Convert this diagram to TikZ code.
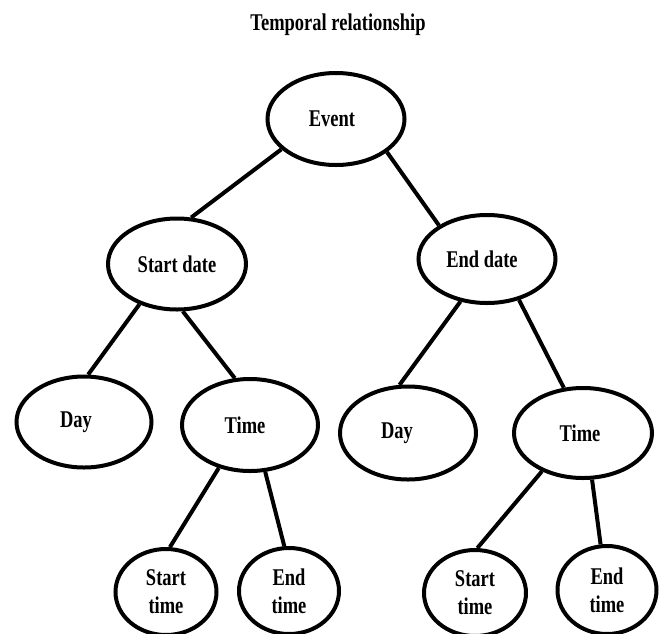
\documentclass[tikz,border=0pt]{standalone}
\usepackage{fontspec}
\setmainfont{Liberation Serif}[FakeStretch=0.77]
\usetikzlibrary{shapes.geometric}
\tikzset{item/.style={ellipse, draw, line width=4pt, inner sep=0pt,
      font=\fontsize{24}{28}\selectfont\bfseries, align=center},
    link/.style={line width=4pt}}

\begin{document}
\begin{tikzpicture}[x=1pt,y=-1pt]
    \useasboundingbox (0,0) rectangle (659,633);
    % Title
    \node[anchor=base, font=\fontsize{24}{28}\selectfont\bfseries] (title) at (338,30) {Temporal relationship};
    % Nodes of the tree
    \node[item, minimum width=137pt, minimum height=92pt] (event) at (336,119) {Event\hspace*{8pt}};
    \node[item, minimum width=138pt, minimum height=91pt] (sdate) at (177,264) {Start date};
    \node[item, minimum width=137pt, minimum height=88pt] (edate) at (487,259) {End date\hspace*{10pt}};
    \node[item, minimum width=135pt, minimum height=91pt] (dayA) at (84,422) {Day\hspace*{16pt}};
    \node[item, minimum width=136pt, minimum height=92pt] (timeA) at (250,425) {Time\hspace*{10pt}};
    \node[item, minimum width=136pt, minimum height=93pt] (dayB) at (408,433) {Day\hspace*{22pt}};
    \node[item, minimum width=138pt, minimum height=90pt] (timeB) at (583,433) {Time\hspace*{6pt}};
    \node[item, minimum width=101pt, minimum height=86pt] (stimeA) at (166,592) {Start\\time};
    \node[item, minimum width=100pt, minimum height=86pt] (etimeA) at (289,591) {End\\time};
    \node[item, minimum width=102pt, minimum height=86pt] (stimeB) at (475,593) {Start\\time};
    \node[item, minimum width=99pt, minimum height=88pt] (etimeB) at (607,590) {End\\time};
    % Connectors
    \draw[link] (event.209) -- (sdate.73);
    \draw[link] (event.327) -- (edate.145);
    \draw[link] (sdate.227) -- (dayA.85);
    \draw[link] (sdate.277) -- (timeA.108);
    \draw[link] (edate.238) -- (dayB.100);
    \draw[link] (edate.308) -- (timeB.113);
    \draw[link] (timeA.234) -- (stimeA.85);
    \draw[link] (timeA.288) -- (etimeA.96);
    \draw[link] (timeB.223) -- (stimeB.87);
    \draw[link] (timeB.281) -- (etimeB.98);
\end{tikzpicture}
\end{document}
